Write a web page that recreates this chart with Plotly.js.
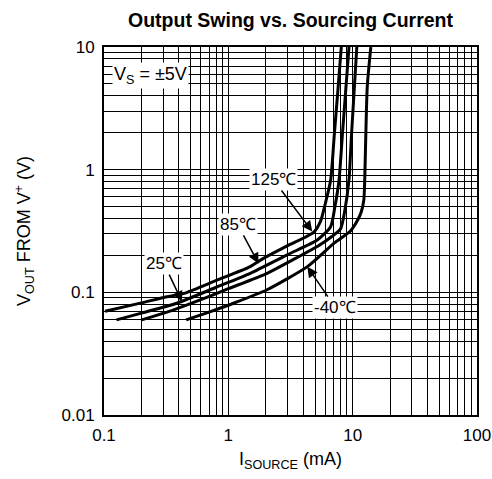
<!DOCTYPE html>
<html>
<head>
<meta charset="utf-8">
<script src="https://cdn.plot.ly/plotly-3.0.1.min.js"></script>
<style>html,body{margin:0;padding:0;background:#fff;}#chart{width:492px;height:479px;}</style>
</head>
<body>
<div id="chart"></div>
<script>
// Series (x: ISOURCE in mA, y: VOUT from V+ in V)
var x125 = [0.102, 0.2, 0.32, 0.44, 0.8, 1.5, 1.93, 3.0, 4.88, 5.52, 6.0, 6.65, 7.13, 7.63, 8.1];
var y125 = [0.070, 0.082, 0.092, 0.098, 0.125, 0.162, 0.19, 0.24, 0.31, 0.38, 0.52, 0.82, 1.98, 4.6, 10];

var x85 = [0.126, 0.2, 0.385, 0.8, 1.5, 3.0, 5.19, 6.65, 7.2, 7.77, 8.28, 9.34];
var y85 = [0.0596, 0.0677, 0.0815, 0.110, 0.143, 0.203, 0.267, 0.343, 0.5, 0.824, 1.98, 10];

var x25 = [0.201, 0.35, 0.594, 1.0, 2.05, 3.5, 5.19, 6.8, 8.0, 8.6, 9.34, 9.8, 10.8];
var y25 = [0.0596, 0.071, 0.0867, 0.107, 0.143, 0.19, 0.236, 0.285, 0.33, 0.45, 0.824, 1.98, 10];

var xm40 = [0.458, 0.7, 1.1, 2.05, 4.32, 7.06, 9.64, 11.0, 11.7, 12.3, 12.5, 13.1, 14.0];
var ym40 = [0.0596, 0.069, 0.0815, 0.105, 0.162, 0.251, 0.318, 0.39, 0.45, 0.566, 0.824, 4.75, 10];

var seriesNames = ['125℃', '85℃', '25℃', '-40℃'];

var xTickVals = [0.1, 1, 10, 100];
var xTickText = ['0.1', '1', '10', '100'];
var yTickVals = [0.01, 0.1, 1, 10];
var yTickText = ['0.01', '0.1', '1', '10'];
var minorDigits = [2, 3, 4, 5, 6, 7, 8, 9];

function minorVals(decades) {
  var out = [];
  decades.forEach(function (d) { minorDigits.forEach(function (m) { out.push(m * d); }); });
  return out;
}

var lineStyle = {color: '#000', width: 3, shape: 'spline', smoothing: 0.6};
var traces = [
  {x: x125, y: y125, name: seriesNames[0]},
  {x: x85, y: y85, name: seriesNames[1]},
  {x: x25, y: y25, name: seriesNames[2]},
  {x: xm40, y: ym40, name: seriesNames[3]}
].map(function (t) {
  t.type = 'scatter'; t.mode = 'lines'; t.line = lineStyle; t.hoverinfo = 'skip';
  return t;
});

var fam = 'Liberation Sans, Arial, sans-serif';
function f(size) { return {family: fam, color: '#000', size: size}; }

function arrowNote(text, xv, yv, ax, ay) {
  return {
    text: text, x: Math.log10(xv), y: Math.log10(yv), xref: 'x', yref: 'y',
    ax: ax, ay: ay, showarrow: true, arrowhead: 2, arrowsize: 1.4, arrowwidth: 1.5,
    arrowcolor: '#000', bgcolor: '#fff', font: f(17), borderpad: 1
  };
}

var layout = {
  width: 492, height: 479,
  margin: {l: 104, r: 15, t: 47, b: 64},
  paper_bgcolor: '#fff', plot_bgcolor: '#fff',
  showlegend: false,
  font: f(16),
  title: {
    text: '<b>Output Swing vs. Sourcing Current</b>',
    font: f(19.5), xref: 'paper', x: 0.5, xanchor: 'center',
    yref: 'container', y: 0.957, yanchor: 'middle'
  },
  xaxis: {
    type: 'log', range: [-1, 2],
    tickvals: xTickVals, ticktext: xTickText, tickfont: f(17),
    ticks: '', showgrid: true, gridcolor: '#000', gridwidth: 1,
    minor: {tickvals: minorVals([0.1, 1, 10]), showgrid: true, gridcolor: '#000', gridwidth: 1, ticks: ''},
    showline: true, linecolor: '#000', linewidth: 2, mirror: true, zeroline: false,
    ticklabelstandoff: 4,
    title: {text: 'I<sub>SOURCE</sub> (mA)', font: f(18), standoff: 8}
  },
  yaxis: {
    type: 'log', range: [-2, 1],
    tickvals: yTickVals, ticktext: yTickText, tickfont: f(17),
    ticks: '', showgrid: true, gridcolor: '#000', gridwidth: 1,
    minor: {tickvals: minorVals([0.01, 0.1, 1]), showgrid: true, gridcolor: '#000', gridwidth: 1, ticks: ''},
    showline: true, linecolor: '#000', linewidth: 2, mirror: true, zeroline: false,
    ticklabelstandoff: 4,
    title: {text: 'V<sub>OUT</sub> FROM V<sup>+</sup> (V)', font: f(18), standoff: 26}
  },
  annotations: [
    {text: 'V<sub>S</sub> = ±5V', x: Math.log10(0.116), y: Math.log10(5.9), xref: 'x', yref: 'y',
     xanchor: 'left', yanchor: 'middle', showarrow: false, bgcolor: '#fff', font: f(18), borderpad: 1},
    arrowNote(seriesNames[0], 4.73, 0.313, -39, -52),
    arrowNote(seriesNames[1], 1.75, 0.172, -21, -39),
    arrowNote(seriesNames[2], 0.424, 0.084, -18, -38),
    arrowNote(seriesNames[3], 4.32, 0.162, 28, 41)
  ]
};

Plotly.newPlot('chart', traces, layout, {staticPlot: true, displayModeBar: false});
</script>
</body>
</html>
